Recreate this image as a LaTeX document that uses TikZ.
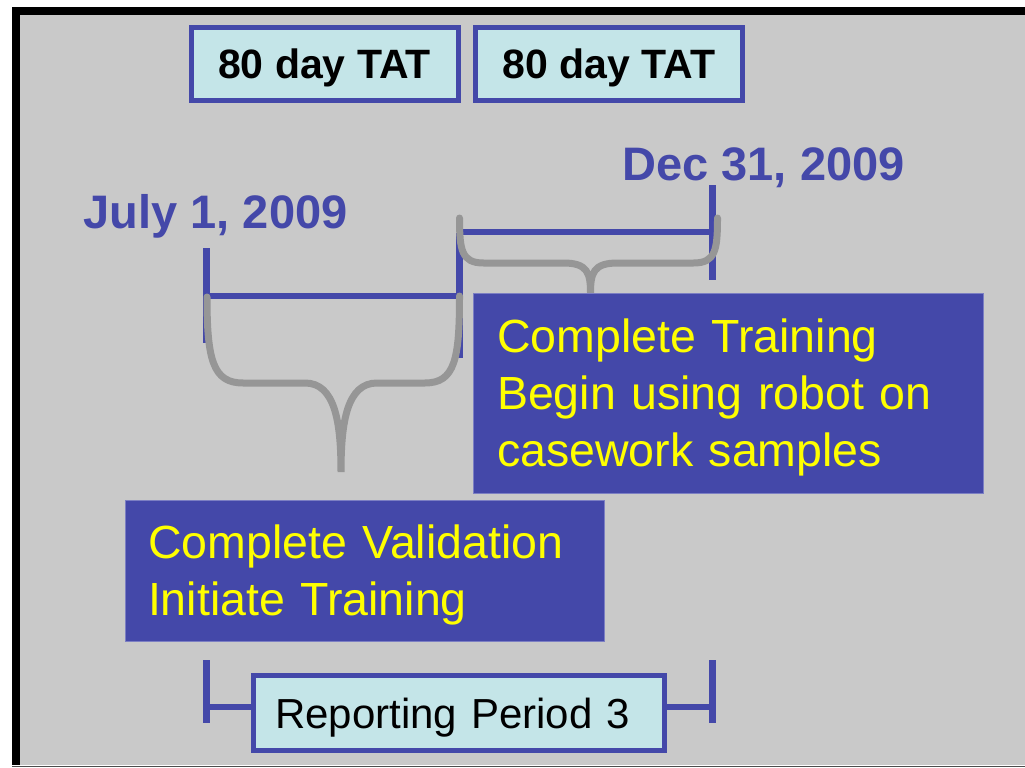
\documentclass[tikz,border=0pt]{standalone}
\usepackage{fontspec}
\setmainfont{Liberation Sans}
\usetikzlibrary{positioning}
\definecolor{slideblue}{HTML}{4448A9}
\definecolor{tatcyan}{HTML}{C4E5E8}
\definecolor{slidegray}{HTML}{C9C9C9}
\definecolor{bracegray}{HTML}{969696}
\definecolor{noteyellow}{HTML}{FFFF00}

\begin{document}
\begin{tikzpicture}[x=1pt,y=-1pt]
\tikzstyle{tat}=[rectangle, draw=slideblue, line width=5pt, fill=tatcyan, text=black, text depth=0pt, minimum width=267pt, minimum height=73pt, font=\fontsize{41}{49}\selectfont\bfseries]
\tikzstyle{period}=[rectangle, draw=slideblue, line width=5pt, fill=tatcyan, text=black, text depth=0pt, align=left, text width=368pt, inner xsep=21.5pt, minimum height=75pt, font=\fontsize{42}{50}\selectfont]
\tikzstyle{note}=[rectangle, draw=slideblue!70!white, line width=0.8pt, fill=slideblue, text=noteyellow, align=left, inner ysep=0pt, font=\fontsize{46.5}{57}\selectfont]
\tikzstyle{date}=[text=slideblue, inner sep=0pt, anchor=base, font=\fontsize{47}{56}\selectfont\bfseries]
\tikzstyle{tick}=[draw=slideblue, line width=7pt]
\tikzstyle{span}=[draw=slideblue, line width=6pt]
\tikzstyle{brace}=[draw=bracegray, line width=7pt, line cap=round]

% slide background
\useasboundingbox (0,0) rectangle (1025,768);
\fill[white] (0,0) rectangle (1025,768);
\fill[slidegray] (20,15) rectangle (1025,765);
\draw[black, line width=8pt] (16,765) -- (16,11) -- (1025,11);
\draw[black!70, line width=1pt] (12,766) -- (1025,766);

% turnaround boxes
\node[tat] (tat1) at (324.5,64) {80 day TAT};
\node[tat] (tat2) at (609,64) {80 day TAT};

% dates
\node[date] (july) at (215.5,228) {July 1, 2009};
\node[date] (dec) at (763.5,180) {Dec 31, 2009};

% timeline
\coordinate (start) at (206,296);
\coordinate (mid) at (459.5,296);
\coordinate (midup) at (459.5,232);
\coordinate (stop) at (712.5,232);
\draw[tick] (start) ++(0,-48) -- ++(0,95);
\draw[tick] (midup) ++(0,1) -- ++(0,125);
\draw[tick] (stop) ++(0,-47) -- ++(0,95);
\draw[span] (start) -- (mid);
\draw[span] (midup) -- (stop);

% braces
\draw[brace] (start) ++(1,1) .. controls ++(0,63) and ++(-30,0) .. ++(36,86)
  -- ++(62,0) .. controls ++(30,0) and ++(0,-50) .. ++(36,89)
  .. controls ++(0,-50) and ++(-30,0) .. ++(36,-89)
  -- ++(48,0) .. controls ++(30,0) and ++(0,63) .. (mid);
\draw[brace] (midup) ++(0,-14) .. controls ++(0,32) and ++(-22,0) .. ++(24,45)
  -- ++(80,0) .. controls ++(24,0) and ++(0,-20) .. ++(27,30)
  .. controls ++(0,-20) and ++(-24,0) .. ++(27,-30)
  -- ++(76,0) .. controls ++(22,0) and ++(0,32) .. ++(24,-45);

% notes
\node[note, text width=462pt, inner xsep=24pt, text depth=114pt, minimum height=200pt] (train) at (728,393)
  {Complete Training\\Begin using robot on\\casework samples};
\node[note, text width=433pt, inner xsep=23pt, text depth=57pt, minimum height=141pt] (valid) at (364.5,570.5)
  {Complete Validation\\Initiate Training};

% reporting period
\node[period] (rp) at (459,713) {Reporting Period 3};
\coordinate (rpstart) at (206,707);
\coordinate (rpstop) at (712.5,707);
\draw[tick] (rpstart) ++(0,-47) -- ++(0,63);
\draw[tick] (rpstop) ++(0,-47) -- ++(0,63);
\draw[span] (rpstart) -- (rpstart -| rp.west);
\draw[span] (rp.east |- rpstop) -- (rpstop);
\end{tikzpicture}
\end{document}
